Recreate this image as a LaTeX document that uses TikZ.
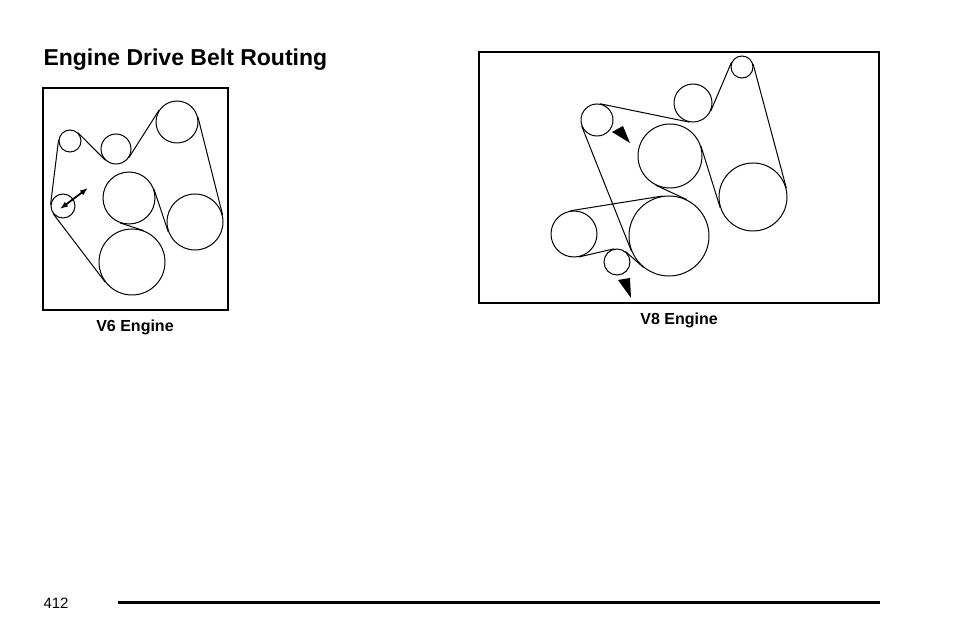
\documentclass[tikz,border=0pt]{standalone}
\usepackage{fontspec}
\setmainfont{Liberation Sans}
\usetikzlibrary{arrows.meta}
\begin{document}
\begin{tikzpicture}[x=1pt,y=-1pt,line width=1pt,
  pulley/.style={circle,draw,inner sep=0pt,minimum size=#1},
  belt/.style={line width=1pt},
  pointer/.style={fill=black,draw=none}]
    \useasboundingbox (0,0) rectangle (954,636);
    \node[anchor=base west,inner sep=0pt,font=\bfseries\fontsize{23}{26}\selectfont] (title) at (43,66) {Engine Drive Belt Routing};
    % V6 engine
    \draw[line width=1.3pt] (43,88) rectangle (228,310);
    \node[pulley=22pt] (s1) at (70,141) {};
    \node[pulley=30pt] (c2) at (116,149) {};
    \node[pulley=42pt] (c3) at (177,122) {};
    \node[pulley=24pt] (t6) at (63,206) {};
    \node[pulley=52pt] (m6) at (129,198) {};
    \node[pulley=56pt] (r6) at (195,222) {};
    \node[pulley=66pt] (b6) at (132,262) {};
    \draw[belt] (t6.174) -- (s1.174);
    \draw[belt] (s1.46) -- (c2.226);
    \draw[belt] (c2.-33) -- (c3.147);
    \draw[belt] (c3.14) -- (r6.14);
    \draw[belt] (m6.20) -- (r6.200);
    \draw[belt] (m6.-110) -- (b6.70);
    \draw[belt] (b6.217) -- (t6.217);
    \coordinate (a1) at (60,209);
    \coordinate (a2) at (88,188);
    \draw[line width=1.8pt,{Latex[length=8pt,width=6pt]}-{Latex[length=8pt,width=6pt]}] (a1) -- (a2);
    \node[font=\bfseries\fontsize{16}{18}\selectfont] (v6) at (135,327) {V6 Engine};
    % V8 engine
    \draw[line width=1.3pt] (479,52) rectangle (879,303);
    \node[pulley=32pt] (p1) at (597,120) {};
    \node[pulley=38pt] (p2) at (693,103) {};
    \node[pulley=22pt] (p3) at (742,67) {};
    \node[pulley=64pt] (m8) at (670,156) {};
    \node[pulley=68pt] (r8) at (753,197) {};
    \node[pulley=80pt] (b8) at (669,236) {};
    \node[pulley=46pt] (l8) at (574,234) {};
    \node[pulley=26pt] (s8) at (617,262) {};
    \draw[belt] (p1.79) -- (p2.259);
    \draw[belt] (p2.-24) -- (p3.156);
    \draw[belt] (p3.15) -- (r8.15);
    \draw[belt] (m8.18) -- (r8.198);
    \draw[belt] (m8.-116) -- (b8.64);
    \draw[belt] (b8.202) -- (p1.202);
    \draw[belt] (b8.99) -- (l8.99);
    \draw[belt] (l8.-78) -- (s8.102);
    \draw[belt] (s8.51) -- (b8.231);
    \fill[pointer] (612,132) -- (623,126) -- (630,143) -- cycle;
    \fill[pointer] (618,280) -- (630,278) -- (631,298) -- cycle;
    \node[font=\bfseries\fontsize{16}{18}\selectfont] (v8) at (679,320) {V8 Engine};
    % page foot
    \node[anchor=base west,inner sep=0pt,font=\fontsize{15}{17}\selectfont] (page) at (43,608) {412};
    \coordinate (f1) at (118,602);
    \coordinate (f2) at (880,602);
    \draw[line width=3pt] (f1) -- (f2);
\end{tikzpicture}
\end{document}
